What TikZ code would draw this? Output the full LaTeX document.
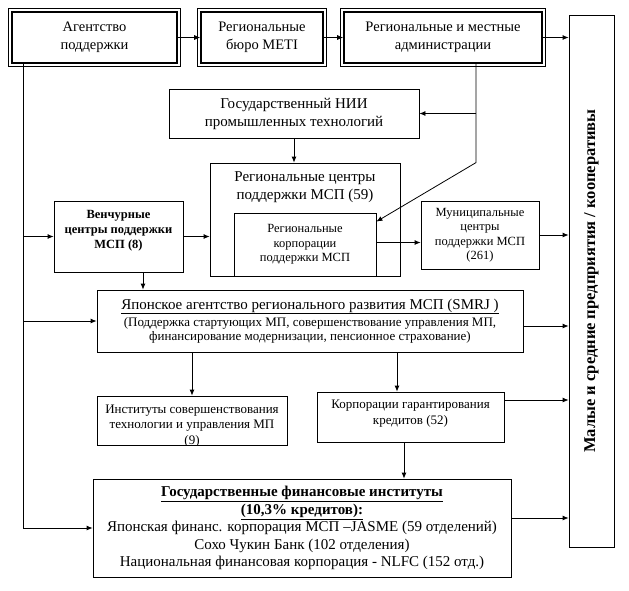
\documentclass[tikz,border=0pt]{standalone}
\usepackage{fontspec}
\setmainfont{Liberation Serif}
\usetikzlibrary{arrows.meta,calc}
\begin{document}
\begin{tikzpicture}[x=1pt,y=-1pt,
  box/.style={draw,line width=0.8pt,inner sep=0pt,align=center},
  dbox/.style={box,line width=1.6pt},
  outer/.style={line width=0.6pt},
  conn/.style={line width=0.8pt,-{Latex[length=6pt,width=5pt]}},
  plain/.style={line width=0.8pt},
  txt/.style={inner sep=0pt,align=center},
  fA/.style={font=\fontsize{14.5}{18}\selectfont},
  fB/.style={font=\fontsize{15}{18}\selectfont},
  fS/.style={font=\fontsize{12.5}{14.5}\selectfont},
  fM/.style={font=\fontsize{13}{15.5}\selectfont},
]
\useasboundingbox (0,0) rectangle (629,590);

% top row (double-framed)
\node[dbox,fA,minimum width=165pt,minimum height=51pt] (A) at (94.5,37.5) {Агентство\\поддержки};
\node[dbox,fA,minimum width=122pt,minimum height=51pt] (B) at (262,37.5) {Региональные\\бюро METI};
\node[dbox,fA,minimum width=198pt,minimum height=51pt] (C) at (443,37.5) {Региональные и местные\\администрации};
\foreach \n in {A,B,C}{
  \draw[outer] ($(\n.north west)+(-2.8,-2.8)$) rectangle ($(\n.south east)+(2.8,2.8)$);
}

% right column
\node[box,minimum width=45pt,minimum height=532pt] (R) at (591.5,281) {};
\node[txt,rotate=90,font=\bfseries\fontsize{16.5}{18}\selectfont] (Rt) at (R.center) {Малые и средние предприятия / кооперативы};

% NII
\node[box,fB,minimum width=250pt,minimum height=49pt] (NII) at (294,113.5) {Государственный НИИ\\промышленных технологий};

% regional centres
\node[box,minimum width=190pt,minimum height=113pt] (RC) at (305,219.5) {};
\node[txt,fB] (RCt) at (305,187) {Региональные центры\\поддержки МСП (59)};
\node[box,fS,minimum width=142pt,minimum height=63pt] (IN) at (305,244.5) {Региональные\\корпорации\\поддержки МСП};

% venture
\node[box,minimum width=129pt,minimum height=71pt] (V) at (118.5,236.5) {};
\node[txt,font=\bfseries\fontsize{12.5}{15}\selectfont] (Vt) at (118.5,231) {Венчурные\\центры поддержки\\МСП (8)};

% municipal
\node[box,fS,minimum width=118pt,minimum height=68pt] (M) at (480,235) {Муниципальные\\центры\\поддержки МСП\\(261)};

% SMRJ
\node[box,minimum width=426pt,minimum height=62pt,font=\fontsize{13}{14.5}\selectfont] (S) at (310,321)
  {{\fontsize{15}{18}\selectfont\underline{Японское агентство регионального развития МСП (SMRJ )}}\\[2.5pt]
   (Поддержка стартующих МП, совершенствование управления МП,\\
   финансирование модернизации, пенсионное страхование)};

% institutes (last line clipped by the frame)
\node[box,minimum width=190pt,minimum height=49pt] (I) at (192,420.5) {};
\begin{scope}
  \clip (I.north west) rectangle (I.south east);
  \node[txt,fM] (It) at (192,426) {Институты совершенствования\\технологии и управления МП\\(9)};
\end{scope}

% credit guarantee
\node[box,minimum width=187pt,minimum height=50pt] (K) at (410.5,417) {};
\node[txt,fM] (Kt) at (410.5,413.5) {Корпорации гарантирования\\кредитов (52)};

% financial institutes
\node[box,minimum width=418pt,minimum height=98pt,font=\fontsize{15}{17.5}\selectfont] (G) at (302,528)
  {\textbf{\underline{Государственные финансовые институты}}\\
   \textbf{\underline{(10,3\% кредитов):}}\\
   Японская финанс. корпорация МСП –JASME (59 отделений)\\
   Сохо Чукин Банк (102 отделения)\\
   Национальная финансовая корпорация - NLFC (152 отд.)};

% connectors
\draw[conn] (A.east) -- (B.west);
\draw[conn] (B.east) -- (C.west);
\draw[conn] (C.east) -- (C.east -| R.west);

\coordinate (L) at ([xshift=-71.5pt]A.south);
\draw[conn] (L) |- (G.west);
\draw[conn] (V.west -| L) -- (V.west);
\draw[conn] (S.west -| L) -- (S.west);

\coordinate (c1) at ([xshift=33pt]C.south);
\draw[conn] (c1) -- (c1 |- RC.north) -- ([yshift=-9pt]IN.north east);
\draw[conn] (c1 |- NII.east) -- (NII.east);

\draw[conn] (NII.south) -- (NII.south |- RC.north);
\draw[conn] (V.east) -- (V.east -| RC.west);
\coordinate (v1) at ([xshift=24.5pt]V.south);
\draw[conn] (v1) -- (v1 |- S.north);

\draw[conn] ([yshift=2pt]IN.east) -- ([yshift=2pt]IN.east -| M.west);
\draw[conn] (M.east) -- (M.east -| R.west);
\draw[conn] ([yshift=-5pt]S.east) -- ([yshift=-5pt]S.east -| R.west);

\draw[conn] (I.north |- S.south) -- (I.north);
\coordinate (k1) at ([xshift=-13.5pt]K.north);
\draw[conn] (k1 |- S.south) -- (k1);
\coordinate (k2) at ([yshift=17pt]K.east);
\draw[conn] (k2) -- (k2 -| R.west);
\coordinate (k3) at ([xshift=-6.5pt]K.south);
\draw[conn] (k3) -- (k3 |- G.north);
\coordinate (g1) at ([yshift=10pt]G.east);
\draw[conn] (g1) -- (g1 -| R.west);
\end{tikzpicture}
\end{document}
